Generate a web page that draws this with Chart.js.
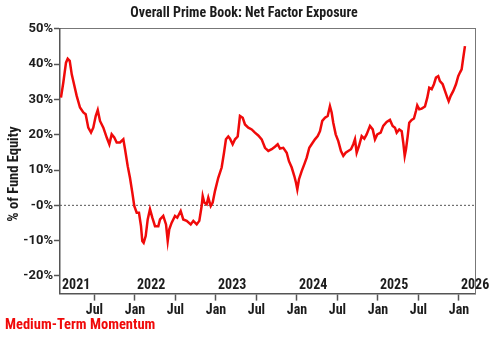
<!DOCTYPE html>
<html>
<head>
<meta charset="utf-8">
<script src="https://cdn.jsdelivr.net/npm/chart.js@4/dist/chart.umd.min.js"></script>
<style>
  html, body { margin: 0; padding: 0; background: #ffffff; }
  canvas { display: block; }
</style>
</head>
<body>
<canvas id="chart" width="500" height="337"></canvas>
<script>
// Dates as decimal years (2022.5 = start of July 2022)
const dates = [
  2021.086, 2021.115, 2021.148, 2021.169, 2021.194, 2021.219, 2021.238, 2021.280, 2021.321, 2021.362,
  2021.391, 2021.423, 2021.457, 2021.485, 2021.515, 2021.540, 2021.568, 2021.609, 2021.651, 2021.683,
  2021.712, 2021.744, 2021.774, 2021.815, 2021.856, 2021.877, 2021.910, 2021.938, 2021.967, 2021.991,
  2022.021, 2022.049, 2022.074, 2022.090, 2022.107, 2022.132, 2022.157, 2022.185, 2022.214, 2022.247,
  2022.288, 2022.309, 2022.349, 2022.383, 2022.404, 2022.423, 2022.453, 2022.494, 2022.522, 2022.564,
  2022.596, 2022.638, 2022.688, 2022.720, 2022.762, 2022.794, 2022.823, 2022.836, 2022.856, 2022.885,
  2022.905, 2022.935, 2022.959, 2022.988, 2023.028, 2023.070, 2023.099, 2023.123, 2023.152, 2023.173,
  2023.206, 2023.235, 2023.268, 2023.296, 2023.330, 2023.358, 2023.399, 2023.441, 2023.481, 2023.522,
  2023.564, 2023.605, 2023.646, 2023.688, 2023.728, 2023.762, 2023.790, 2023.831, 2023.873, 2023.901,
  2023.935, 2023.967, 2023.988, 2024.004, 2024.025, 2024.058, 2024.090, 2024.120, 2024.152, 2024.181,
  2024.222, 2024.256, 2024.284, 2024.312, 2024.346, 2024.379, 2024.407, 2024.428, 2024.448, 2024.478,
  2024.510, 2024.543, 2024.572, 2024.601, 2024.633, 2024.667, 2024.695, 2024.716, 2024.737, 2024.765,
  2024.799, 2024.831, 2024.860, 2024.901, 2024.935, 2024.963, 2024.991, 2025.033, 2025.065, 2025.107,
  2025.148, 2025.181, 2025.210, 2025.231, 2025.263, 2025.293, 2025.312, 2025.330, 2025.346, 2025.367,
  2025.386, 2025.416, 2025.444, 2025.469, 2025.485, 2025.510, 2025.540, 2025.580, 2025.609, 2025.633,
  2025.663, 2025.691, 2025.716, 2025.744, 2025.765, 2025.799, 2025.827, 2025.856, 2025.873, 2025.898,
  2025.930, 2025.963, 2025.991, 2026.012, 2026.033, 2026.053, 2026.074
];

// Net factor exposure, % of fund equity
const exposure = [
  30.5, 34.8, 40.4, 41.5, 40.9, 37.1, 35.2, 31.0, 27.7, 26.3,
  25.8, 22.0, 20.6, 22.0, 25.3, 27.0, 23.9, 22.0, 19.2, 17.3,
  20.1, 19.2, 17.8, 17.8, 18.7, 15.9, 11.1, 7.8, 3.6, -0.2,
  -2.1, -2.1, -5.9, -10.1, -10.6, -8.7, -4.0, -1.1, -3.5, -5.9,
  -5.9, -4.0, -3.0, -5.4, -10.1, -6.8, -4.9, -3.0, -3.5, -1.6,
  -4.0, -4.4, -5.4, -4.4, -5.4, -4.4, -0.2, 2.6, 0.8, 0.3,
  2.2, -0.2, 0.8, 4.1, 7.8, 10.7, 14.9, 18.7, 19.5, 18.9,
  17.3, 18.7, 19.5, 25.3, 24.8, 22.9, 22.0, 21.5, 20.6, 19.8,
  18.7, 16.3, 15.4, 15.9, 16.6, 17.3, 16.1, 16.3, 14.9, 12.5,
  10.7, 8.3, 6.4, 4.5, 7.4, 9.7, 11.6, 13.5, 16.3, 17.3,
  18.7, 19.6, 21.0, 23.9, 24.8, 25.3, 28.1, 26.3, 23.4, 20.1,
  18.2, 15.4, 14.0, 14.9, 15.4, 15.9, 17.3, 18.7, 14.9, 16.8,
  19.6, 18.9, 20.1, 22.5, 21.5, 18.7, 20.1, 20.6, 22.5, 23.6,
  24.2, 22.5, 22.0, 20.6, 21.5, 21.0, 17.8, 14.0, 15.9, 19.6,
  23.4, 24.2, 24.6, 26.7, 28.3, 27.2, 27.4, 28.0, 30.5, 33.3,
  32.9, 34.3, 36.2, 36.6, 35.2, 34.3, 32.4, 30.5, 29.5, 31.0,
  32.4, 34.3, 36.6, 37.6, 38.5, 41.8, 45.1
];

// Axis ticks and labels
const xTickValues = [2021.5, 2022, 2022.5, 2023, 2023.5, 2024, 2024.5, 2025, 2025.5, 2026];
const xTickLabels = ['Jul', 'Jan', 'Jul', 'Jan', 'Jul', 'Jan', 'Jul', 'Jan', 'Jul', 'Jan'];
const yearLabels = [2021, 2022, 2023, 2024, 2025, 2026];
const yTickValues = [-20, -10, 0, 10, 20, 30, 40, 50];
const xRange = [2021.074, 2026.198];
const yRange = [-25, 50];

const FAMILY = 'Roboto, "DejaVu Sans Condensed", sans-serif';
const NARROW = 'bold condensed';
const INK = '#1c1c1c';
const RED = '#f00a0a';
const AXIS = '#555555';

// Year captions sit inside the plot, just above the bottom axis;
// the y-axis caption is placed a little below the plot's midpoint.
const captions = {
  id: 'captions',
  afterDatasetsDraw(chart) {
    const { ctx, chartArea, scales } = chart;
    ctx.save();
    ctx.font = NARROW + ' 14px ' + FAMILY;
    ctx.fillStyle = INK;
    ctx.textAlign = 'left';
    ctx.textBaseline = 'middle';
    yearLabels.forEach(yr => {
      const px = Math.max(scales.x.getPixelForValue(yr), chartArea.left) + 2;
      ctx.fillText(String(yr), px, chartArea.bottom - 8);
    });
    ctx.restore();

    ctx.save();
    ctx.font = NARROW + ' 14.5px ' + FAMILY;
    ctx.fillStyle = INK;
    ctx.textAlign = 'center';
    ctx.textBaseline = 'middle';
    ctx.translate(14, 174);
    ctx.rotate(-Math.PI / 2);
    ctx.fillText('% of Fund Equity', 0, 0);
    ctx.restore();
  }
};

const points = dates.map((d, i) => ({ x: d, y: exposure[i] }));

new Chart(document.getElementById('chart'), {
  type: 'line',
  data: {
    datasets: [
      {
        label: 'Medium-Term Momentum',
        data: points,
        borderColor: RED,
        borderWidth: 2.5,
        pointRadius: 0,
        tension: 0,
        order: 1
      },
      {
        label: 'zero',
        data: [{ x: xRange[0], y: 0 }, { x: xRange[1], y: 0 }],
        borderColor: AXIS,
        borderWidth: 1,
        borderDash: [2, 2],
        pointRadius: 0,
        order: 2
      }
    ]
  },
  options: {
    responsive: false,
    devicePixelRatio: 1,
    animation: false,
    layout: { padding: { left: 5, right: 17, top: 0, bottom: 0 } },
    plugins: {
      legend: { display: false },
      tooltip: { enabled: false },
      title: {
        display: true,
        text: 'Overall Prime Book: Net Factor Exposure',
        color: INK,
        font: { family: FAMILY, size: 14, weight: NARROW, lineHeight: 1.2 },
        padding: { top: 5, bottom: 7 }
      },
      subtitle: {
        display: true,
        position: 'bottom',
        align: 'start',
        text: 'Medium-Term Momentum',
        color: RED,
        font: { family: FAMILY, size: 14.5, weight: NARROW, lineHeight: 1.2 },
        padding: { top: 2, bottom: 3 }
      }
    },
    scales: {
      x: {
        type: 'linear',
        position: 'bottom',
        min: xRange[0],
        max: xRange[1],
        afterBuildTicks(scale) {
          scale.ticks = xTickValues.map(v => ({ value: v }));
        },
        afterFit(scale) { scale.height = 21; },
        ticks: {
          autoSkip: false,
          maxRotation: 0,
          padding: 1,
          color: INK,
          font: { family: FAMILY, size: 14, weight: NARROW },
          callback(value) {
            const i = xTickValues.indexOf(value);
            return i >= 0 ? xTickLabels[i] : '';
          }
        },
        grid: { drawOnChartArea: false, drawTicks: true, tickLength: 7, tickColor: AXIS, tickWidth: 1.5 },
        border: { display: true, color: AXIS, width: 1.5 }
      },
      xTop: {
        type: 'linear',
        position: 'top',
        afterFit(scale) { scale.height = 0; },
        ticks: { display: false },
        grid: { display: false },
        border: { display: true, color: '#777777', width: 1 }
      },
      y: {
        type: 'linear',
        position: 'left',
        min: yRange[0],
        max: yRange[1],
        afterBuildTicks(scale) {
          scale.ticks = yTickValues.map(v => ({ value: v }));
        },
        afterFit(scale) { scale.width = 55; },
        ticks: {
          padding: 1,
          color: INK,
          font: { family: FAMILY, size: 13, weight: 'bold' },
          callback(value) { return value === 0 ? '-0%' : value + '%'; }
        },
        grid: { drawOnChartArea: false, drawTicks: true, tickLength: 6, tickColor: AXIS, tickWidth: 1.5 },
        border: { display: true, color: AXIS, width: 1.5 }
      },
      yRight: {
        type: 'linear',
        position: 'right',
        afterFit(scale) { scale.width = 8; },
        ticks: { display: false },
        grid: { display: false },
        border: { display: true, color: '#777777', width: 1 }
      }
    }
  },
  plugins: [captions]
});
</script>
</body>
</html>
